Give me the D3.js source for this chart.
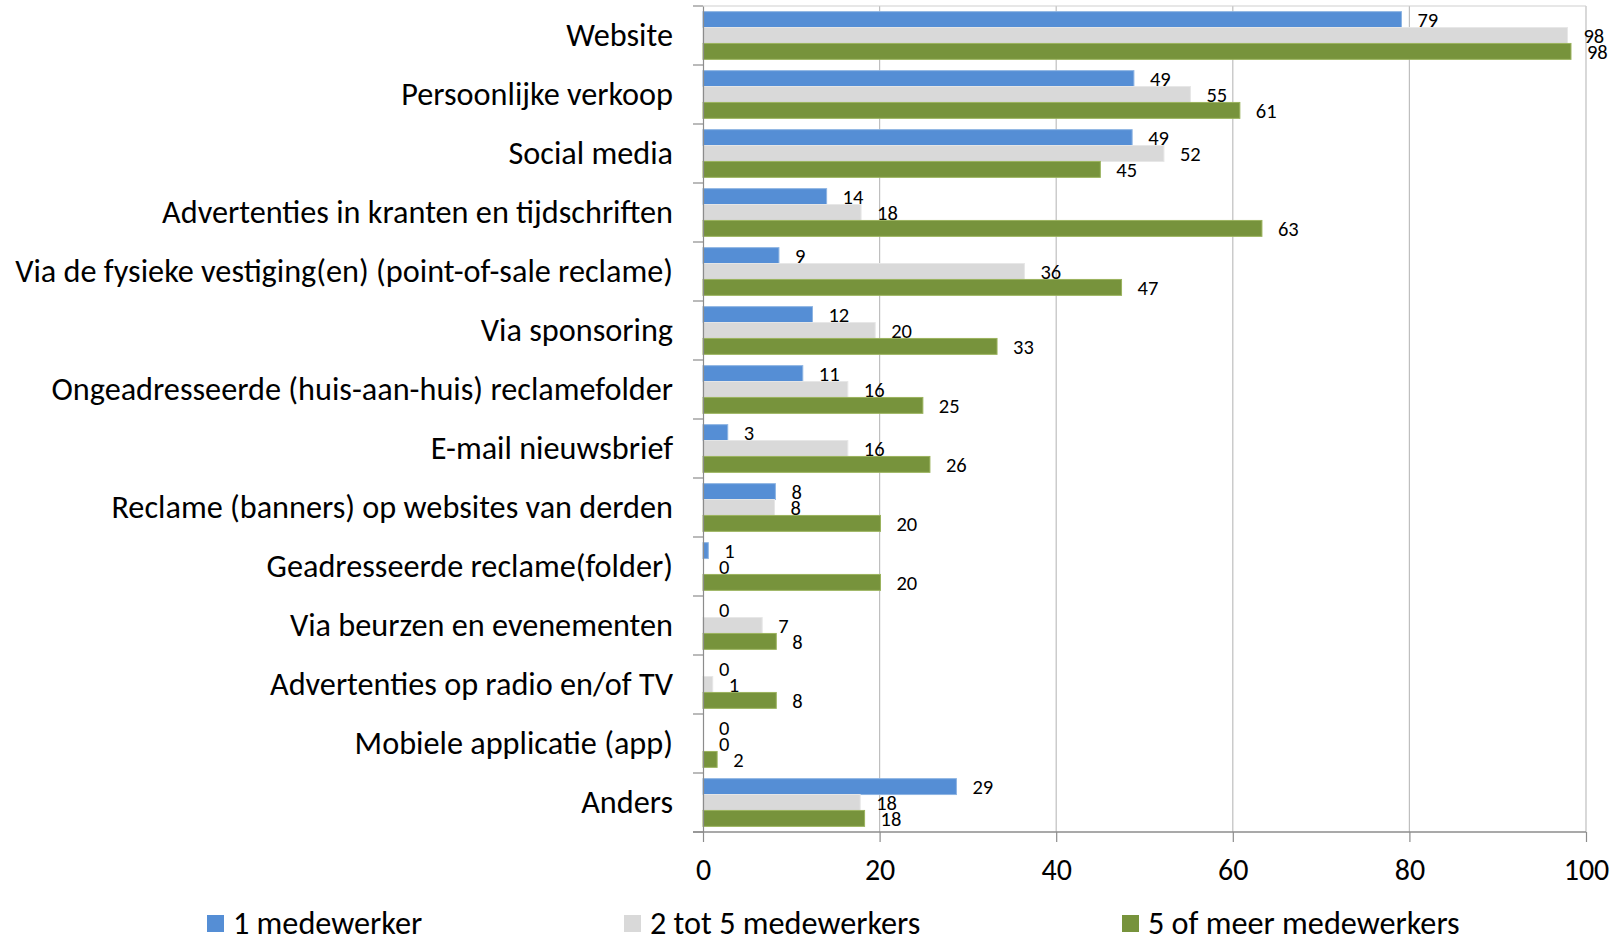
<!DOCTYPE html>
<html>
<head>
<meta charset="utf-8">
<script src="https://cdn.jsdelivr.net/npm/d3@7"></script>
<style>
  html, body { margin: 0; padding: 0; background: #fff; }
  svg { display: block; font-family: Carlito, Lato, "Open Sans", sans-serif; }
</style>
</head>
<body>
<svg id="chart" width="1619" height="939"></svg>
<script>
const categories = [
  "Website",
  "Persoonlijke verkoop",
  "Social media",
  "Advertenties in kranten en tijdschriften",
  "Via de fysieke vestiging(en) (point-of-sale reclame)",
  "Via sponsoring",
  "Ongeadresseerde (huis-aan-huis) reclamefolder",
  "E-mail nieuwsbrief",
  "Reclame (banners) op websites van derden",
  "Geadresseerde reclame(folder)",
  "Via beurzen en evenementen",
  "Advertenties op radio en/of TV",
  "Mobiele applicatie (app)",
  "Anders"
];
const seriesNames = ["1 medewerker", "2 tot 5 medewerkers", "5 of meer medewerkers"];
const seriesColors = ["#558ED5", "#D9D9D9", "#77933C"];
const seriesStroke = ["#8DB4E2", "#E6E6E6", "#9BB35E"];
const values1 = [79.1, 48.8, 48.6, 14.0, 8.6, 12.4, 11.3, 2.8, 8.2, 0.6, 0, 0, 0, 28.7];
const values2 = [97.9, 55.2, 52.2, 17.9, 36.4, 19.5, 16.4, 16.4, 8.1, 0, 6.7, 1.1, 0, 17.8];
const values3 = [98.3, 60.8, 45.0, 63.3, 47.4, 33.3, 24.9, 25.7, 20.1, 20.1, 8.3, 8.3, 1.6, 18.3];
const xTicks = [0, 20, 40, 60, 80, 100];

const allValues = [values1, values2, values3];

const svg = d3.select("#chart");
const plotLeft = 703, plotRight = 1586, plotTop = 6, plotBottom = 832;

const x = d3.scaleLinear().domain([0, 100]).range([plotLeft, plotRight]);
const y = d3.scaleBand().domain(categories).range([plotTop, plotBottom]).paddingInner(0).paddingOuter(0);
const ys = d3.scaleBand().domain(seriesNames).range([0, y.bandwidth()]).paddingInner(0).paddingOuter(0.355);

const axisColor = "#8C8C8C";
const gridColor = "#BFBFBF";

// gridlines
svg.append("g").selectAll("line").data(xTicks.filter(d => d > 0)).join("line")
  .attr("x1", d => x(d)).attr("x2", d => x(d))
  .attr("y1", plotTop).attr("y2", plotBottom)
  .attr("stroke", gridColor).attr("stroke-width", 1.2);
// top line
svg.append("line").attr("x1", plotLeft).attr("x2", x(100)).attr("y1", plotTop).attr("y2", plotTop)
  .attr("stroke", "#D0D0D0").attr("stroke-width", 1.2);

// bars
const groups = svg.append("g").selectAll("g").data(categories).join("g")
  .attr("transform", d => `translate(0,${y(d)})`);
groups.each(function(cat, ci) {
  const g = d3.select(this);
  seriesNames.forEach((s, si) => {
    const v = allValues[si][ci];
    if (v > 0) {
      g.append("rect")
        .attr("x", x(0))
        .attr("y", ys(s))
        .attr("width", x(v) - x(0))
        .attr("height", ys.bandwidth())
        .attr("fill", seriesColors[si])
        .attr("stroke", seriesStroke[si])
        .attr("stroke-width", 1);
    }
    g.append("text")
      .attr("x", x(v) + 16)
      .attr("y", ys(s) + ys.bandwidth() / 2)
      .attr("dy", "0.36em")
      .attr("font-size", 20.5)
      .attr("fill", "#000")
      .text(d3.format(".0f")(v));
  });
});

// left axis
const yAxis = d3.axisLeft(y).tickSize(0).tickPadding(30);
const gy = svg.append("g").attr("transform", `translate(${plotLeft},0)`).call(yAxis);
gy.attr("font-family", null);
gy.select(".domain").attr("stroke", axisColor).attr("stroke-width", 1.2);
gy.selectAll(".tick text").attr("font-size", 27).attr("fill", "#000");
// category boundary ticks
const bounds = categories.map(c => y(c)).concat([plotBottom]);
svg.append("g").selectAll("line").data(bounds).join("line")
  .attr("x1", plotLeft - 10).attr("x2", plotLeft).attr("y1", d => d).attr("y2", d => d)
  .attr("stroke", axisColor).attr("stroke-width", 1.2);

// fit category label size to the reference width of the longest label (658px)
let maxW = 0;
gy.selectAll(".tick text").each(function() { maxW = Math.max(maxW, this.getComputedTextLength()); });
const catSize = maxW > 0 ? 27 * 658 / maxW : 27;
gy.selectAll(".tick text").attr("font-size", catSize);

// bottom axis
const xAxis = d3.axisBottom(x).tickValues(xTicks).tickSize(10).tickPadding(17);
const gx = svg.append("g").attr("transform", `translate(0,${plotBottom})`).call(xAxis);
gx.attr("font-family", null);
gx.select(".domain").remove();
gx.selectAll(".tick line").attr("stroke", axisColor).attr("stroke-width", 1.2);
gx.selectAll(".tick text").attr("font-size", 30).attr("fill", "#000");
svg.append("line").attr("x1", plotLeft - 10).attr("x2", x(100)).attr("y1", plotBottom).attr("y2", plotBottom)
  .attr("stroke", axisColor).attr("stroke-width", 1.5);

// legend
const legendX = [207, 624, 1122];
const legend = svg.append("g").selectAll("g").data(seriesNames).join("g")
  .attr("transform", (d, i) => `translate(${legendX[i]},915)`);
legend.append("rect").attr("width", 17).attr("height", 17)
  .attr("fill", (d, i) => seriesColors[i]);
legend.append("text").attr("x", 26).attr("y", 8.5).attr("dy", "0.34em")
  .attr("font-size", catSize).attr("fill", "#000").text(d => d);
</script>
</body>
</html>
